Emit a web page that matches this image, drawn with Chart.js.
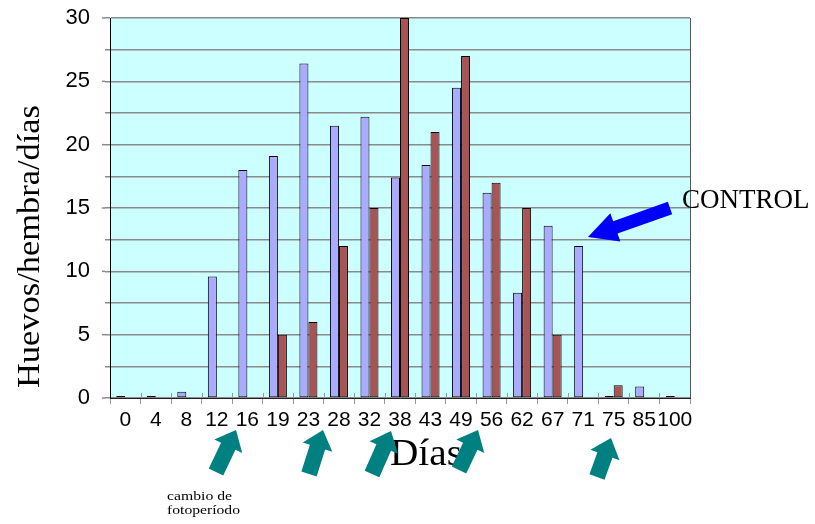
<!DOCTYPE html>
<html>
<head>
<meta charset="utf-8">
<script src="https://cdn.jsdelivr.net/npm/chart.js@4.4.1/dist/chart.umd.min.js"></script>
<style>
  body { margin: 0; background: #fff; }
  #wrap { width: 815px; height: 524px; position: relative; }
</style>
</head>
<body>
<div id="wrap"><canvas id="huevosChart"></canvas></div>
<script>
// Días de muestreo y huevos por hembra por día
const dias = ['0', '4', '8', '12', '16', '19', '23', '28', '32', '38', '43', '49', '56', '62', '67', '71', '75', '85', '100'];
const huevosControl = [0, 0, 0.5, 9.6, 18, 19.1, 26.4, 21.5, 22.2, 17.4, 18.4, 24.5, 16.2, 8.3, 13.6, 12, 0, 0.9, 0];
const huevosFotoperiodo = [null, null, null, null, null, 5, 6, 12, 15, 30, 21, 27, 17, 15, 5, null, 1, null, null];
const yTicks = [0, 5, 10, 15, 20, 25, 30];

// flechas de cambio de fotoperíodo (cola -> punta)
const flechasCambio = [
    [[216, 472], [236, 430]],
    [[309, 474], [323, 430]],
    [[372, 474], [391, 431]],
    [[459, 470], [478, 430]],
    [[597, 477], [611, 438]],
];

function blockArrow(ctx, tail, tip, shaftW, headW, headLen, color) {
    const dx = tip[0] - tail[0], dy = tip[1] - tail[1];
    const len = Math.hypot(dx, dy);
    ctx.save();
    ctx.translate(tail[0], tail[1]);
    ctx.rotate(Math.atan2(dy, dx));
    ctx.beginPath();
    ctx.moveTo(0, -shaftW / 2);
    ctx.lineTo(len - headLen, -shaftW / 2);
    ctx.lineTo(len - headLen, -headW / 2);
    ctx.lineTo(len, 0);
    ctx.lineTo(len - headLen, headW / 2);
    ctx.lineTo(len - headLen, shaftW / 2);
    ctx.lineTo(0, shaftW / 2);
    ctx.closePath();
    ctx.fillStyle = color;
    ctx.fill();
    ctx.restore();
}

// texto estirado a un ancho dado
function stretchText(ctx, text, x, y, width) {
    const w = ctx.measureText(text).width;
    ctx.save();
    ctx.translate(x, y);
    ctx.scale(width / w, 1);
    ctx.textAlign = 'left';
    ctx.fillText(text, 0, 0);
    ctx.restore();
}

const fondoPlugin = {
    id: 'fondo',
    beforeDraw(chart) {
        const { ctx, chartArea: a } = chart;
        ctx.save();
        ctx.fillStyle = '#ccffff';
        ctx.fillRect(a.left, a.top, a.right - a.left, a.bottom - a.top);
        ctx.restore();
    },
    afterDraw(chart) {
        const { ctx, chartArea: a } = chart;
        const x = chart.scales.x;
        const y = chart.scales.y;
        ctx.save();
        // borde derecho
        ctx.strokeStyle = '#555';
        ctx.lineWidth = 1;
        ctx.beginPath();
        ctx.moveTo(a.right + 0.5, a.top);
        ctx.lineTo(a.right + 0.5, a.bottom);
        ctx.stroke();
        // marcas cruzadas del eje x
        const cat = (x.right - x.left) / dias.length;
        ctx.strokeStyle = '#999';
        for (let i = 1; i < dias.length; i++) {
            const px = Math.round(x.left + i * cat) + 0.5;
            ctx.beginPath();
            ctx.moveTo(px, a.bottom - 5);
            ctx.lineTo(px, a.bottom);
            ctx.stroke();
        }
        // marcas largas en los valores principales del eje y
        ctx.strokeStyle = '#8a8a8a';
        ctx.lineWidth = 1.5;
        yTicks.forEach((v) => {
            const py = y.getPixelForValue(v);
            ctx.beginPath();
            ctx.moveTo(a.left - 8, py);
            ctx.lineTo(a.left - 5, py);
            ctx.stroke();
        });

        ctx.fillStyle = '#000';
        ctx.textBaseline = 'alphabetic';
        // título eje y
        ctx.font = '31px "Liberation Serif", "Times New Roman", serif';
        ctx.save();
        ctx.translate(39, 388);
        ctx.rotate(-Math.PI / 2);
        stretchText(ctx, 'Huevos/hembra/días', 0, 0, 283);
        ctx.restore();
        // título eje x
        ctx.font = '38px "Liberation Serif", "Times New Roman", serif';
        stretchText(ctx, 'Días', 390, 465, 72);

        flechasCambio.forEach(([t, p]) => blockArrow(ctx, t, p, 16, 31, 18, '#008080'));

        ctx.font = '27px "Liberation Serif", "Times New Roman", serif';
        ctx.fillText('CONTROL', 682, 208);
        blockArrow(ctx, [670, 208], [588, 237], 13, 30, 29, '#0000ff');

        ctx.font = '13px "Liberation Serif", "Times New Roman", serif';
        stretchText(ctx, 'cambio de', 167, 500, 65);
        stretchText(ctx, 'fotoperíodo', 167, 514, 73);
        ctx.restore();
    }
};

new Chart(document.getElementById('huevosChart'), {
    type: 'bar',
    data: {
        labels: dias,
        datasets: [{
            label: 'Control',
            data: huevosControl,
            backgroundColor: '#aaaaff',
            borderColor: '#000',
            borderWidth: 1,
            borderSkipped: false,
            minBarLength: 2,
        }, {
            label: 'Cambio de fotoperíodo',
            data: huevosFotoperiodo,
            backgroundColor: '#a95454',
            borderColor: '#000',
            borderWidth: 1,
            borderSkipped: false,
        }]
    },
    options: {
        responsive: true, maintainAspectRatio: false,
        animation: false,
        layout: { padding: { top: 18, right: 125, left: 0, bottom: 0 } },
        plugins: { legend: { display: false }, tooltip: { enabled: false } },
        datasets: { bar: { categoryPercentage: 0.59, barPercentage: 1 } },
        scales: {
            x: {
                afterFit: (s) => { s.height = 126; s.paddingLeft = 0; s.paddingRight = 0; },
                grid: { offset: true, drawOnChartArea: false, tickLength: 6, color: '#999' },
                border: { color: '#222', width: 1 },
                ticks: {
                    autoSkip: false, maxRotation: 0, padding: 4, color: '#000',
                    font: { family: '"Liberation Sans", Arial, sans-serif', size: 21 }
                }
            },
            y: {
                min: 0, max: 30,
                afterFit: (s) => { s.width = 110; s.paddingTop = 0; s.paddingBottom = 0; },
                grid: { color: '#8a8a8a', lineWidth: 1.5, tickLength: 5 },
                border: { color: '#000', width: 1 },
                ticks: {
                    stepSize: 2.5, padding: 15, color: '#000',
                    font: { family: '"Liberation Sans", Arial, sans-serif', size: 22 },
                    callback: (v) => yTicks.includes(v) ? v : ''
                }
            }
        }
    },
    plugins: [fondoPlugin]
});
</script>
</body>
</html>
